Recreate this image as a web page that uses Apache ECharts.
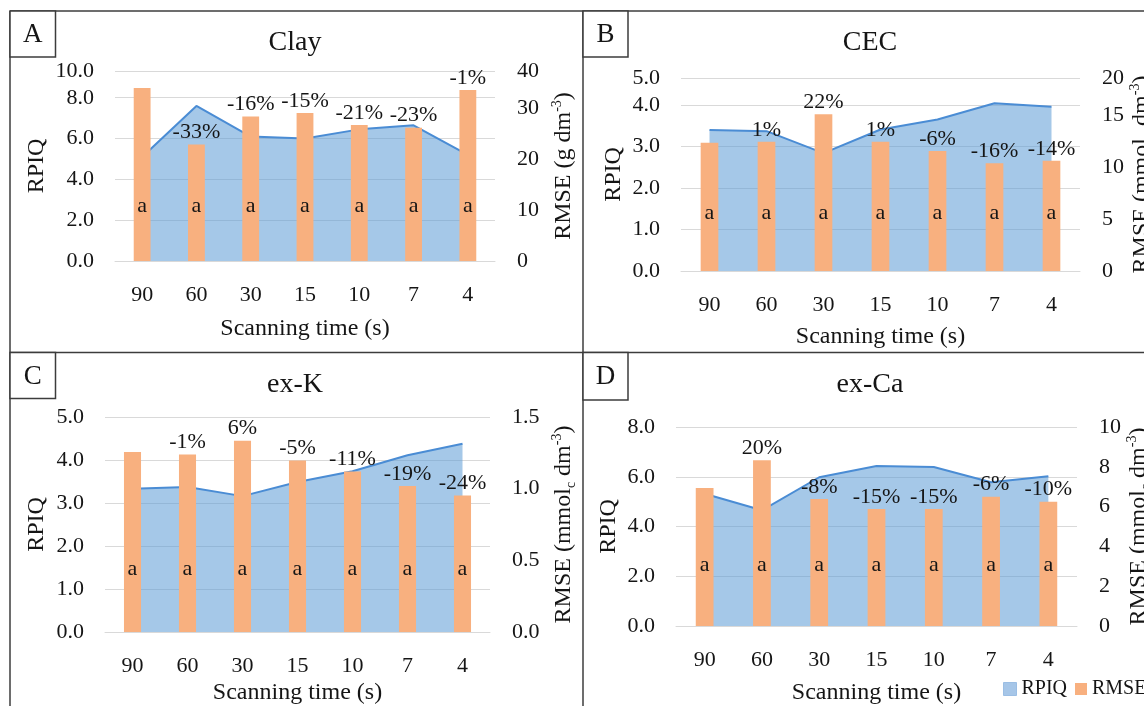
<!DOCTYPE html>
<html>
<head>
<meta charset="utf-8">
<script src="https://cdn.jsdelivr.net/npm/echarts@6/dist/echarts.min.js"></script>
<style>
html,body{margin:0;padding:0;background:#fff;}
#chart{width:1144px;height:706px;}
</style>
</head>
<body>
<div id="chart"></div>
<script>
// ---------- data ----------
const categories = ['90', '60', '30', '15', '10', '7', '4'];

const rpiqClay = [5.1, 7.6, 6.1, 6.0, 6.45, 6.65, 5.2];
const rmseClay = [34.0, 22.9, 28.4, 29.1, 26.7, 26.2, 33.6];
const pctClay = ['', '-33%', '-16%', '-15%', '-21%', '-23%', '-1%'];
const letterClay = ['a', 'a', 'a', 'a', 'a', 'a', 'a'];
const rpiqTicksClay = ['0.0', '2.0', '4.0', '6.0', '8.0', '10.0'];
const rmseTicksClay = ['0', '10', '20', '30', '40'];

const rpiqCEC = [3.40, 3.37, 2.84, 3.41, 3.65, 4.04, 3.96];
const rmseCEC = [12.34, 12.43, 15.07, 12.43, 11.54, 10.36, 10.6];
const pctCEC = ['', '1%', '22%', '1%', '-6%', '-16%', '-14%'];
const letterCEC = ['a', 'a', 'a', 'a', 'a', 'a', 'a'];
const rpiqTicksCEC = ['0.0', '1.0', '2.0', '3.0', '4.0', '5.0'];
const rmseTicksCEC = ['0', '5', '10', '15', '20'];

const rpiqK = [3.33, 3.37, 3.16, 3.49, 3.74, 4.11, 4.38];
const rmseK = [1.256, 1.238, 1.335, 1.196, 1.119, 1.019, 0.952];
const pctK = ['', '-1%', '6%', '-5%', '-11%', '-19%', '-24%'];
const letterK = ['a', 'a', 'a', 'a', 'a', 'a', 'a'];
const rpiqTicksK = ['0.0', '1.0', '2.0', '3.0', '4.0', '5.0'];
const rmseTicksK = ['0.0', '0.5', '1.0', '1.5'];

const rpiqCa = [5.32, 4.65, 5.98, 6.43, 6.39, 5.78, 6.02];
const rmseCa = [6.93, 8.33, 6.38, 5.88, 5.88, 6.5, 6.25];
const pctCa = ['', '20%', '-8%', '-15%', '-15%', '-6%', '-10%'];
const letterCa = ['a', 'a', 'a', 'a', 'a', 'a', 'a'];
const rpiqTicksCa = ['0.0', '2.0', '4.0', '6.0', '8.0'];
const rmseTicksCa = ['0', '2', '4', '6', '8', '10'];

// ---------- style ----------
const FONT = "'Liberation Serif', 'Times New Roman', serif";
const TXT = '#151515';
const BAR = '#F8B07F';
const AREA = 'rgba(91,155,213,0.55)';
const LINE = '#4A8CD4';
const GRID = '#D9D9D9';
const FRAME = '#3c3c3c';

const panels = [
  {
    title: 'Clay', letter: 'A', rpiq: rpiqClay, rmse: rmseClay, pct: pctClay, letters: letterClay,
    lTicks: rpiqTicksClay, rTicks: rmseTicksClay,
    grid: {left: 115, top: 71, width: 380, height: 190},
    lMax: 9.31, lInt: 2, rMax: 37.33, rInt: 10,
    rName: '{n|RMSE (g dm}{sup|-3}{n|)}',
    lGap: 66, rGap: 55, xGap: 56, aDist: 44,
    titlePos: [295, 43], box: [10, 11, 45.5, 46]
  },
  {
    title: 'CEC', letter: 'B', rpiq: rpiqCEC, rmse: rmseCEC, pct: pctCEC, letters: letterCEC,
    lTicks: rpiqTicksCEC, rTicks: rmseTicksCEC,
    grid: {left: 681, top: 78, width: 399, height: 193},
    lMax: 4.65, lInt: 1, rMax: 18.56, rInt: 5,
    rName: '{n|RMSE (mmol}{sub|c}{n| dm}{sup|-3}{n|)}',
    lGap: 55, rGap: 47, xGap: 54, aDist: 47,
    titlePos: [870, 43], box: [583, 11, 45, 46]
  },
  {
    title: 'ex-K', letter: 'C', rpiq: rpiqK, rmse: rmseK, pct: pctK, letters: letterK,
    lTicks: rpiqTicksK, rTicks: rmseTicksK,
    grid: {left: 105, top: 417, width: 385, height: 215},
    lMax: 5, lInt: 1, rMax: 1.5, rInt: 0.5,
    rName: '{n|RMSE (mmol}{sub|c}{n| dm}{sup|-3}{n|)}',
    lGap: 56, rGap: 60, xGap: 49, aDist: 52,
    titlePos: [295, 385], box: [10, 352.5, 45.5, 46]
  },
  {
    title: 'ex-Ca', letter: 'D', rpiq: rpiqCa, rmse: rmseCa, pct: pctCa, letters: letterCa,
    lTicks: rpiqTicksCa, rTicks: rmseTicksCa,
    grid: {left: 676, top: 427, width: 401, height: 199},
    lMax: 8, lInt: 2, rMax: 10, rInt: 2,
    rName: '{n|RMSE (mmol}{sub|c}{n| dm}{sup|-3}{n|)}',
    lGap: 55, rGap: 48, xGap: 55, aDist: 50,
    titlePos: [870, 385], box: [583, 352.5, 45, 47.5]
  }
];

const richName = {
  n: {fontFamily: FONT, fontSize: 24, color: TXT, lineHeight: 28},
  sup: {fontFamily: FONT, fontSize: 14, color: TXT, verticalAlign: 'top', lineHeight: 28, padding: [0, 0, 8, 0]},
  sub: {fontFamily: FONT, fontSize: 14, color: TXT, verticalAlign: 'bottom', lineHeight: 28, padding: [10, 0, 0, 0]}
};

const grids = [], xAxes = [], yAxes = [], series = [], graphics = [];

panels.forEach((p, i) => {
  grids.push(Object.assign({containLabel: false, outerBoundsMode: 'none'}, p.grid));
  xAxes.push({
    type: 'category', gridIndex: i, data: categories,
    axisLine: {show: true, lineStyle: {color: GRID, width: 1}},
    axisTick: {show: false},
    axisLabel: {color: TXT, fontFamily: FONT, fontSize: 22, margin: 23},
    name: 'Scanning time (s)', nameLocation: 'middle', nameGap: p.xGap,
    nameTextStyle: {color: TXT, fontFamily: FONT, fontSize: 24}
  });
  yAxes.push({
    type: 'value', gridIndex: i, position: 'left', min: 0, max: p.lMax, interval: p.lInt,
    axisLine: {show: false}, axisTick: {show: false},
    splitLine: {show: true, lineStyle: {color: GRID, width: 1.2}},
    axisLabel: {color: TXT, fontFamily: FONT, fontSize: 22, margin: 21,
      formatter: (v, idx) => p.lTicks[idx] !== undefined ? p.lTicks[idx] : ''},
    name: 'RPIQ', nameLocation: 'middle', nameGap: p.lGap, nameRotate: 90,
    nameTextStyle: {color: TXT, fontFamily: FONT, fontSize: 24}
  });
  yAxes.push({
    type: 'value', gridIndex: i, position: 'right', min: 0, max: p.rMax, interval: p.rInt,
    axisLine: {show: false}, axisTick: {show: false}, splitLine: {show: false},
    axisLabel: {color: TXT, fontFamily: FONT, fontSize: 22, margin: 22,
      formatter: (v, idx) => p.rTicks[idx] !== undefined ? p.rTicks[idx] : ''},
    name: p.rName, nameLocation: 'middle', nameGap: p.rGap, nameRotate: 90,
    nameTextStyle: {color: TXT, fontFamily: FONT, fontSize: 24, rich: richName}
  });
  series.push({
    name: 'RPIQ', type: 'line', xAxisIndex: i, yAxisIndex: 2 * i, data: p.rpiq,
    symbol: 'none', z: 1,
    lineStyle: {color: LINE, width: 2},
    itemStyle: {color: LINE},
    areaStyle: {color: AREA, opacity: 1}
  });
  series.push({
    name: 'RMSE', type: 'bar', xAxisIndex: i, yAxisIndex: 2 * i + 1, data: p.rmse,
    barWidth: '31%', barGap: '-100%', z: 3,
    itemStyle: {color: BAR},
    label: {show: true, position: 'top', distance: 1, color: TXT, fontFamily: FONT, fontSize: 22,
      formatter: (d) => p.pct[d.dataIndex]}
  });
  series.push({
    name: 'letters' + i, type: 'bar', xAxisIndex: i, yAxisIndex: 2 * i + 1, data: p.rmse,
    barWidth: '31%', barGap: '-100%', z: 4, silent: true,
    itemStyle: {color: 'rgba(0,0,0,0)'},
    label: {show: true, position: 'insideBottom', distance: p.aDist, color: TXT, fontFamily: FONT, fontSize: 22,
      formatter: (d) => p.letters[d.dataIndex]}
  });
  const b = p.box;
  graphics.push({type: 'rect', shape: {x: b[0], y: b[1], width: b[2], height: b[3]},
    style: {fill: '#fff', stroke: FRAME, lineWidth: 1.5}, z: 10});
  graphics.push({type: 'text', x: b[0] + b[2] / 2, y: b[1] + b[3] / 2 + 1,
    style: {text: p.letter, font: '27px ' + FONT, fill: TXT, textAlign: 'center', textVerticalAlign: 'middle'}, z: 11});
  graphics.push({type: 'text', x: p.titlePos[0], y: p.titlePos[1],
    style: {text: p.title, font: '28px ' + FONT, fill: TXT, textAlign: 'center', textVerticalAlign: 'middle'}, z: 11});
});

graphics.unshift(
  {type: 'line', shape: {x1: 10, y1: 11, x2: 1144, y2: 11}, style: {stroke: FRAME, lineWidth: 1.5}, z: 9},
  {type: 'line', shape: {x1: 10, y1: 11, x2: 10, y2: 706}, style: {stroke: FRAME, lineWidth: 1.5}, z: 9},
  {type: 'line', shape: {x1: 583, y1: 11, x2: 583, y2: 706}, style: {stroke: FRAME, lineWidth: 1.5}, z: 9},
  {type: 'line', shape: {x1: 10, y1: 352.5, x2: 1144, y2: 352.5}, style: {stroke: FRAME, lineWidth: 1.5}, z: 9}
);

const legendText = {color: TXT, fontFamily: FONT, fontSize: 20};
const chart = echarts.init(document.getElementById('chart'), null, {renderer: 'canvas'});
chart.setOption({
  animation: false,
  backgroundColor: '#fff',
  grid: grids,
  xAxis: xAxes,
  yAxis: yAxes,
  series: series,
  legend: [
    {
      left: 1003, top: 679, itemWidth: 13, itemHeight: 13, icon: 'rect', padding: 0,
      textStyle: legendText,
      data: [{name: 'RPIQ', itemStyle: {color: '#A6C6E8', borderColor: '#9BBEE4', borderWidth: 1}}]
    },
    {
      left: 1075, top: 679, itemWidth: 12, itemHeight: 12, icon: 'rect', padding: 0,
      textStyle: legendText,
      data: [{name: 'RMSE', itemStyle: {color: BAR}}]
    }
  ],
  graphic: graphics
});
</script>
</body>
</html>
